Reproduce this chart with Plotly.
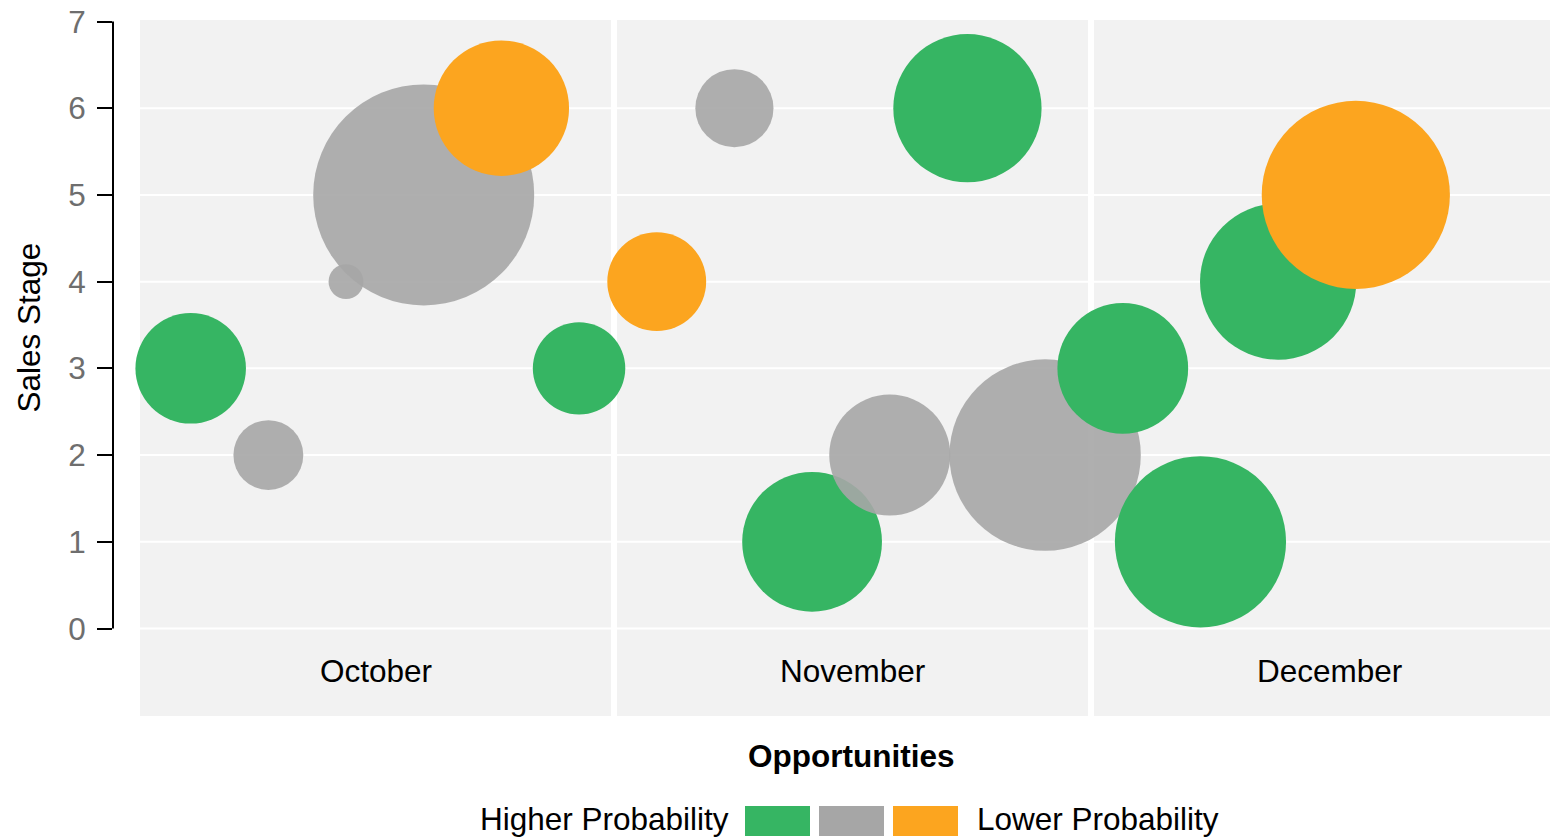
import plotly.graph_objects as go

# ---- data -------------------------------------------------------------
months = ["October", "November", "December"]
opp_index = list(range(1, 17))
opp_month = ["October"] * 6 + ["November"] * 6 + ["December"] * 4
opp_stage = [3, 2, 4, 5, 6, 3, 4, 6, 1, 2, 6, 2, 3, 1, 4, 5]
opp_value = [25, 10, 2.5, 100, 37.5, 17.5, 20, 12.5, 40, 30, 45, 75, 35, 60, 50, 72.5]
opp_prob = ["high", "mid", "mid", "mid", "low", "high",
            "low", "mid", "high", "mid", "high", "mid",
            "high", "high", "high", "low"]

prob_levels = ["high", "mid", "low"]
legend_left = "Higher Probability"
legend_right = "Lower Probability"
stage_ticks = [0, 1, 2, 3, 4, 5, 6, 7]

# ---- styling ----------------------------------------------------------
COLORS = {"high": "#36b563", "mid": "#a6a6a6", "low": "#fca51f"}
OPACITY = {"high": 1.0, "mid": 0.9, "low": 1.0}
BAND = "#f2f2f2"
FONT = "Liberation Sans, Arial, Helvetica, sans-serif"
FS = 31.5
MAX_BUBBLE_PX = 221.0

W, H = 1550, 838
ML, MT, MB = 113, 20, 122
PW, PH = W - ML, H - MT - MB
Y_TOP_PX, Y0_PX = 21.5, 628.5        # pixel rows of stage 7 and stage 0
unit = (Y0_PX - Y_TOP_PX) / 7.0
y_lo = -((H - MB) - Y0_PX) / unit
y_hi = 7 + (Y_TOP_PX - MT) / unit


def px_x(p):
    return (p - ML) / PW


def px_y(p):
    return ((H - MB) - p) / PH


fig = go.Figure()

# bubble area proportional to value (plotly area mode: px diameter = sqrt(2*v/sizeref))
fig.add_trace(go.Scatter(
    x=opp_index,
    y=opp_stage,
    mode="markers",
    customdata=list(zip(opp_month, opp_value)),
    hovertemplate="%{customdata[0]}<br>Stage %{y}<br>Value %{customdata[1]}<extra></extra>",
    marker=dict(
        size=opp_value,
        sizemode="area",
        sizeref=2.0 * max(opp_value) / MAX_BUBBLE_PX ** 2,
        color=[COLORS[p] for p in opp_prob],
        opacity=[OPACITY[p] for p in opp_prob],
        line=dict(width=0),
    ),
    showlegend=False,
))

shapes = []
annotations = []

# month bands behind the bubbles
band_left, band_w, band_step = 140, 471, 477
for k, m in enumerate(months):
    x0 = band_left + k * band_step
    x1 = min(x0 + band_w, W)
    shapes.append(dict(type="rect", xref="paper", yref="paper",
                       x0=px_x(x0), x1=px_x(x1), y0=0, y1=1,
                       fillcolor=BAND, line=dict(width=0), layer="below"))
    annotations.append(dict(text=m, xref="paper", yref="paper",
                            x=px_x(x0 + band_w / 2), y=px_y(671),
                            xanchor="center", yanchor="middle", showarrow=False,
                            font=dict(family=FONT, size=FS, color="#000000")))

# white grid lines across the bands (none on the top stage)
for s in stage_ticks[:-1]:
    shapes.append(dict(type="line", xref="paper", yref="y", x0=0, x1=1,
                       y0=s, y1=s, line=dict(color="white", width=2),
                       layer="below"))

# y axis line from stage 0 to stage 7
shapes.append(dict(type="line", xref="paper", yref="y", x0=0, x1=0,
                   y0=0, y1=7, line=dict(color="#000000", width=2)))

# axis titles
annotations.append(dict(text="Sales Stage", xref="paper", yref="paper",
                        x=px_x(28), y=px_y(327.5), textangle=-90,
                        xanchor="center", yanchor="middle", showarrow=False,
                        font=dict(family=FONT, size=FS, color="#000000")))
annotations.append(dict(text="<b>Opportunities</b>", xref="paper", yref="paper",
                        x=px_x(852), y=px_y(756),
                        xanchor="center", yanchor="middle", showarrow=False,
                        font=dict(family=FONT, size=FS, color="#000000")))

# probability legend
sw_left, sw_w, sw_step = 745, 65, 74
sw_top, sw_bot = 806, 836
for i, p in enumerate(prob_levels):
    x0 = sw_left + i * sw_step
    shapes.append(dict(type="rect", xref="paper", yref="paper",
                       x0=px_x(x0), x1=px_x(x0 + sw_w),
                       y0=px_y(sw_bot), y1=px_y(sw_top),
                       fillcolor=COLORS[p], line=dict(width=0)))
annotations.append(dict(text=legend_left, xref="paper", yref="paper",
                        x=px_x(sw_left - 14), y=px_y(819),
                        xanchor="right", yanchor="middle", showarrow=False,
                        font=dict(family=FONT, size=FS, color="#000000")))
annotations.append(dict(text=legend_right, xref="paper", yref="paper",
                        x=px_x(sw_left + 2 * sw_step + sw_w + 17), y=px_y(819),
                        xanchor="left", yanchor="middle", showarrow=False,
                        font=dict(family=FONT, size=FS, color="#000000")))

fig.update_layout(
    width=W, height=H,
    margin=dict(l=ML, r=0, t=MT, b=MB, pad=0, autoexpand=False),
    paper_bgcolor="white",
    plot_bgcolor="white",
    font=dict(family=FONT, size=FS, color="#000000"),
    shapes=shapes,
    annotations=annotations,
    xaxis=dict(range=[0, 18.5], showgrid=False, zeroline=False,
               showticklabels=False, ticks="", showline=False, fixedrange=True),
    yaxis=dict(range=[y_lo, y_hi], tickvals=stage_ticks, showgrid=False,
               zeroline=False, showline=False,
               ticks="outside", ticklen=15, tickwidth=2, tickcolor="#000000",
               tickfont=dict(family=FONT, size=FS, color="#6e6e6e"),
               ticklabelstandoff=5, fixedrange=True),
    hovermode="closest",
)

fig.write_html("out.html")
